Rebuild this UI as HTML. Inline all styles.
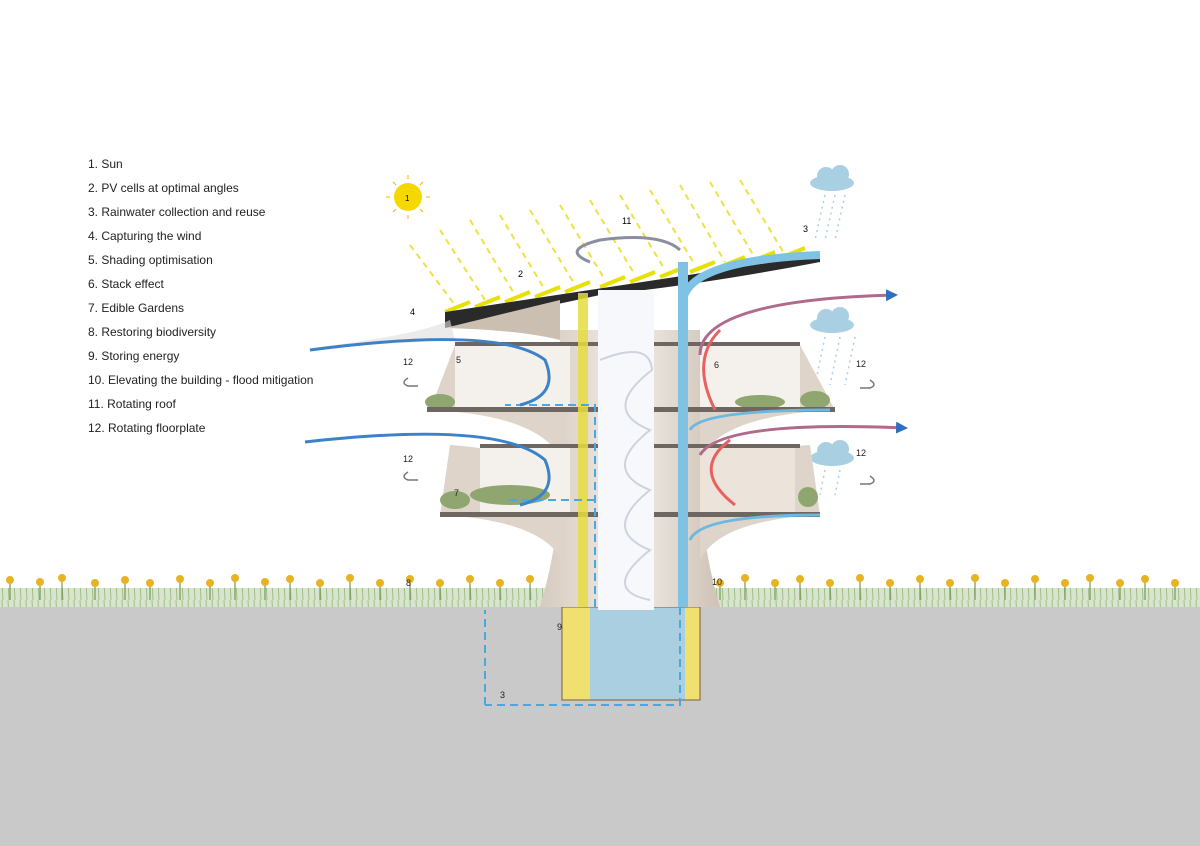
<!DOCTYPE html>
<html><head><meta charset="utf-8"><style>
html,body{margin:0;padding:0;background:#fff}
svg{display:block}
text{font-family:"Liberation Sans",sans-serif}
</style></head><body>
<svg width="1200" height="846" viewBox="0 0 1200 846" xmlns="http://www.w3.org/2000/svg">
<defs>
<marker id="ab" markerUnits="userSpaceOnUse" markerWidth="12" markerHeight="12" refX="9" refY="6" orient="auto"><path d="M0,0 L12,6 L0,12 z" fill="#2f6fbf"/></marker>
<linearGradient id="trunk" x1="0" x2="1"><stop offset="0" stop-color="#d6cabe"/><stop offset="0.5" stop-color="#f2eee9"/><stop offset="1" stop-color="#cfc2b6"/></linearGradient>
<pattern id="grass" width="6" height="20" patternUnits="userSpaceOnUse"><rect width="6" height="20" fill="#d9e4cf"/><line x1="2" y1="0" x2="3" y2="20" stroke="#9fbf88" stroke-width="1"/></pattern>
</defs>
<rect x="0" y="607" width="1200" height="239" fill="#c9c9c9"/>
<!-- grass -->
<rect x="0" y="588" width="560" height="19" fill="url(#grass)"/>
<rect x="700" y="588" width="500" height="19" fill="url(#grass)"/>
<g stroke="#6f9a50" stroke-width="1.2">
<line x1="10" y1="580" x2="10" y2="600"/><line x1="40" y1="582" x2="40" y2="600"/><line x1="62" y1="578" x2="62" y2="600"/><line x1="95" y1="583" x2="95" y2="600"/><line x1="125" y1="580" x2="125" y2="600"/><line x1="150" y1="583" x2="150" y2="600"/><line x1="180" y1="579" x2="180" y2="600"/><line x1="210" y1="583" x2="210" y2="600"/><line x1="235" y1="578" x2="235" y2="600"/><line x1="265" y1="582" x2="265" y2="600"/><line x1="290" y1="579" x2="290" y2="600"/><line x1="320" y1="583" x2="320" y2="600"/><line x1="350" y1="578" x2="350" y2="600"/><line x1="380" y1="583" x2="380" y2="600"/><line x1="410" y1="579" x2="410" y2="600"/><line x1="440" y1="583" x2="440" y2="600"/><line x1="470" y1="579" x2="470" y2="600"/><line x1="500" y1="583" x2="500" y2="600"/><line x1="530" y1="579" x2="530" y2="600"/>
<line x1="720" y1="583" x2="720" y2="600"/><line x1="745" y1="578" x2="745" y2="600"/><line x1="775" y1="583" x2="775" y2="600"/><line x1="800" y1="579" x2="800" y2="600"/><line x1="830" y1="583" x2="830" y2="600"/><line x1="860" y1="578" x2="860" y2="600"/><line x1="890" y1="583" x2="890" y2="600"/><line x1="920" y1="579" x2="920" y2="600"/><line x1="950" y1="583" x2="950" y2="600"/><line x1="975" y1="578" x2="975" y2="600"/><line x1="1005" y1="583" x2="1005" y2="600"/><line x1="1035" y1="579" x2="1035" y2="600"/><line x1="1065" y1="583" x2="1065" y2="600"/><line x1="1090" y1="578" x2="1090" y2="600"/><line x1="1120" y1="583" x2="1120" y2="600"/><line x1="1145" y1="579" x2="1145" y2="600"/><line x1="1175" y1="583" x2="1175" y2="600"/>
</g>
<g fill="#e8b322">
<circle cx="10" cy="580" r="4"/><circle cx="40" cy="582" r="4"/><circle cx="62" cy="578" r="4"/><circle cx="95" cy="583" r="4"/><circle cx="125" cy="580" r="4"/><circle cx="150" cy="583" r="4"/><circle cx="180" cy="579" r="4"/><circle cx="210" cy="583" r="4"/><circle cx="235" cy="578" r="4"/><circle cx="265" cy="582" r="4"/><circle cx="290" cy="579" r="4"/><circle cx="320" cy="583" r="4"/><circle cx="350" cy="578" r="4"/><circle cx="380" cy="583" r="4"/><circle cx="410" cy="579" r="4"/><circle cx="440" cy="583" r="4"/><circle cx="470" cy="579" r="4"/><circle cx="500" cy="583" r="4"/><circle cx="530" cy="579" r="4"/>
<circle cx="720" cy="583" r="4"/><circle cx="745" cy="578" r="4"/><circle cx="775" cy="583" r="4"/><circle cx="800" cy="579" r="4"/><circle cx="830" cy="583" r="4"/><circle cx="860" cy="578" r="4"/><circle cx="890" cy="583" r="4"/><circle cx="920" cy="579" r="4"/><circle cx="950" cy="583" r="4"/><circle cx="975" cy="578" r="4"/><circle cx="1005" cy="583" r="4"/><circle cx="1035" cy="579" r="4"/><circle cx="1065" cy="583" r="4"/><circle cx="1090" cy="578" r="4"/><circle cx="1120" cy="583" r="4"/><circle cx="1145" cy="579" r="4"/><circle cx="1175" cy="583" r="4"/>
</g>
<!-- legend -->
<g font-size="12" fill="#222">
<text x="88" y="168">1. Sun</text><text x="88" y="192">2. PV cells at optimal angles</text><text x="88" y="216">3. Rainwater collection and reuse</text><text x="88" y="240">4. Capturing the wind</text><text x="88" y="264">5. Shading optimisation</text><text x="88" y="288">6. Stack effect</text><text x="88" y="312">7. Edible Gardens</text><text x="88" y="336">8. Restoring biodiversity</text><text x="88" y="360">9. Storing energy</text><text x="88" y="384">10. Elevating the building - flood mitigation</text><text x="88" y="408">11. Rotating roof</text><text x="88" y="432">12. Rotating floorplate</text>
</g>
<!-- sun -->
<circle cx="408" cy="197" r="14" fill="#f5d800"/>
<g stroke="#f0b000" stroke-width="1"><line x1="408" y1="175" x2="408" y2="179"/><line x1="408" y1="215" x2="408" y2="219"/><line x1="386" y1="197" x2="390" y2="197"/><line x1="426" y1="197" x2="430" y2="197"/><line x1="393" y1="182" x2="396" y2="185"/><line x1="420" y1="209" x2="423" y2="212"/><line x1="423" y1="182" x2="420" y2="185"/><line x1="396" y1="209" x2="393" y2="212"/></g>
<text x="405" y="201" font-size="8">1</text>
<!-- sun rays -->
<g stroke="#f0e040" stroke-width="2" stroke-dasharray="6,5">
<line x1="410" y1="245" x2="455" y2="305"/><line x1="440" y1="230" x2="485" y2="300"/><line x1="470" y1="220" x2="515" y2="295"/><line x1="500" y1="215" x2="545" y2="290"/><line x1="530" y1="210" x2="575" y2="285"/><line x1="560" y1="205" x2="605" y2="280"/><line x1="590" y1="200" x2="635" y2="275"/><line x1="620" y1="195" x2="665" y2="270"/><line x1="650" y1="190" x2="695" y2="265"/><line x1="680" y1="185" x2="725" y2="262"/><line x1="710" y1="182" x2="755" y2="258"/><line x1="740" y1="180" x2="785" y2="255"/>
</g>
<g stroke="#e8e000" stroke-width="4"><line x1="445" y1="312" x2="470" y2="302"/><line x1="475" y1="307" x2="500" y2="297"/><line x1="505" y1="302" x2="530" y2="292"/><line x1="535" y1="297" x2="560" y2="287"/><line x1="565" y1="292" x2="590" y2="282"/><line x1="600" y1="287" x2="625" y2="277"/><line x1="630" y1="282" x2="655" y2="272"/><line x1="660" y1="277" x2="685" y2="267"/><line x1="690" y1="272" x2="715" y2="262"/><line x1="720" y1="267" x2="745" y2="257"/><line x1="750" y1="262" x2="775" y2="252"/><line x1="780" y1="258" x2="805" y2="248"/></g>
<path d="M590,262 Q560,250 600,240 Q660,232 680,250" fill="none" stroke="#8a8fa0" stroke-width="3"/>
<text x="622" y="224" font-size="9">11</text><text x="518" y="277" font-size="9">2</text><text x="803" y="232" font-size="9">3</text><text x="410" y="315" font-size="9">4</text>
<!-- clouds -->
<g fill="#a9cfe3"><ellipse cx="832" cy="183" rx="22" ry="8"/><circle cx="826" cy="176" r="9"/><circle cx="840" cy="174" r="9"/>
<ellipse cx="832" cy="325" rx="22" ry="8"/><circle cx="826" cy="318" r="9"/><circle cx="840" cy="316" r="9"/>
<ellipse cx="832" cy="458" rx="22" ry="8"/><circle cx="826" cy="451" r="9"/><circle cx="840" cy="449" r="9"/></g>
<g stroke="#a9cfe3" stroke-width="1.5" stroke-dasharray="2,4"><line x1="825" y1="195" x2="815" y2="240"/><line x1="835" y1="195" x2="825" y2="240"/><line x1="845" y1="195" x2="835" y2="240"/><line x1="825" y1="337" x2="815" y2="385"/><line x1="840" y1="337" x2="830" y2="385"/><line x1="855" y1="337" x2="845" y2="385"/><line x1="825" y1="470" x2="820" y2="495"/><line x1="840" y1="470" x2="835" y2="495"/></g>
<!-- underground -->
<rect x="562" y="607" width="138" height="93" fill="#f0e070"/>
<rect x="590" y="607" width="95" height="93" fill="#a9cfe0"/>
<rect x="562" y="607" width="138" height="93" fill="none" stroke="#7a6040" stroke-width="1"/>
<!-- trunk -->
<path d="M540,607 Q560,540 560,470 L560,330 L700,330 L700,470 Q700,540 720,607 Z" fill="url(#trunk)"/>
<path d="M440,515 Q540,520 562,560 L562,500 Q540,450 450,445 Z" fill="#ded4ca"/>
<path d="M820,515 Q720,520 700,560 L700,500 Q720,450 810,445 Z" fill="#ded4ca"/>
<path d="M430,410 Q540,415 562,460 L562,390 Q540,350 455,345 Z" fill="#ded4ca"/>
<path d="M835,410 Q720,415 700,460 L700,390 Q720,350 800,345 Z" fill="#ded4ca"/>
<!-- rooms -->
<rect x="455" y="345" width="115" height="62" fill="#f4f1ed"/><rect x="700" y="345" width="100" height="62" fill="#f4f1ed"/>
<rect x="480" y="447" width="90" height="65" fill="#f4f1ed"/><rect x="700" y="447" width="95" height="65" fill="#ece4da"/>
<g fill="#8fa670"><ellipse cx="440" cy="402" rx="15" ry="8"/><ellipse cx="760" cy="402" rx="25" ry="7"/><ellipse cx="815" cy="400" rx="15" ry="9"/><ellipse cx="510" cy="495" rx="40" ry="10"/><ellipse cx="455" cy="500" rx="15" ry="9"/><ellipse cx="808" cy="497" rx="10" ry="10"/></g>
<!-- slabs -->
<g fill="#6e6660"><rect x="427" y="407" width="408" height="5"/><rect x="440" y="512" width="380" height="5"/><rect x="455" y="342" width="345" height="4"/><rect x="480" y="444" width="320" height="4"/></g>
<!-- roof -->
<path d="M445,312 L820,255 L820,262 Q700,285 600,295 L445,328 Z" fill="#2a2a2a"/>
<path d="M445,328 Q520,330 560,340 L560,300 Z" fill="#cbbfb2"/>
<path d="M310,348 Q420,335 450,320 L455,340 Z" fill="#ddd" opacity=".6"/>
<!-- spiral stair -->
<rect x="598" y="290" width="56" height="320" fill="#f7f8fb"/>
<g fill="none" stroke="#cdd3dc" stroke-width="2"><path d="M600,360 Q650,340 652,370 Q600,410 650,430 Q600,470 650,490 Q600,530 650,550 Q600,590 650,600"/></g>
<!-- yellow bar & blue bar -->
<rect x="578" y="293" width="10" height="314" fill="#e6dc40" opacity=".85"/>
<rect x="678" y="262" width="10" height="345" fill="#7fc2e3"/>
<path d="M683,300 Q690,260 820,255" fill="none" stroke="#7fc2e3" stroke-width="8"/>
<!-- water dashed -->
<g fill="none" stroke="#4aa8df" stroke-width="2" stroke-dasharray="8,5"><path d="M595,607 L595,405 L505,405"/><path d="M595,500 L505,500"/><path d="M485,705 L485,610"/><path d="M680,607 L680,705 L485,705"/></g>
<!-- wind arrows -->
<g fill="none" stroke-width="3">
<path d="M310,350 Q500,325 545,360 Q560,395 520,405" stroke="#3b82c8"/>
<path d="M305,442 Q500,420 545,460 Q560,495 520,505" stroke="#3b82c8"/>
<path d="M700,355 Q700,300 895,295" stroke="#b06a8c" marker-end="url(#ab)"/>
<path d="M700,455 Q720,420 905,428" stroke="#b06a8c" marker-end="url(#ab)"/>
<path d="M715,410 Q690,360 720,330" stroke="#e86060"/>
<path d="M735,505 Q690,470 730,440" stroke="#e86060"/>
<path d="M690,430 Q700,410 830,410" stroke="#6cb8e0"/>
<path d="M690,540 Q700,515 820,515" stroke="#6cb8e0"/>
</g>
<g fill="none" stroke="#777" stroke-width="1.5"><path d="M408,378 q-8,5 0,8 l10,0"/><path d="M408,472 q-8,5 0,8 l10,0"/><path d="M870,380 q8,5 0,8 l-10,0"/><path d="M870,476 q8,5 0,8 l-10,0"/></g>
<g font-size="9" fill="#222"><text x="403" y="365">12</text><text x="403" y="462">12</text><text x="856" y="367">12</text><text x="856" y="456">12</text><text x="456" y="363">5</text><text x="714" y="368">6</text><text x="454" y="496">7</text><text x="406" y="586">8</text><text x="557" y="630">9</text><text x="712" y="585">10</text><text x="500" y="698">3</text></g>
</svg>
</body></html>
